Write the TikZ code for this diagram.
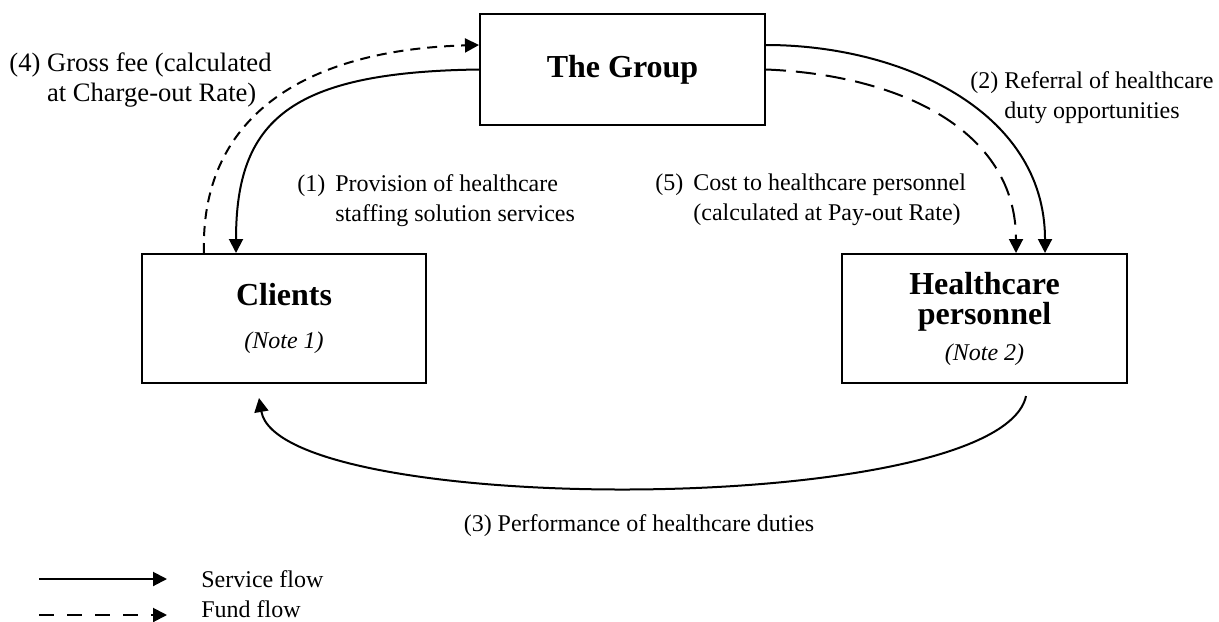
\documentclass[tikz,border=0pt]{standalone}
\usepackage{fontspec}
\setmainfont{Liberation Serif}
\usetikzlibrary{arrows.meta}

\begin{document}
\begin{tikzpicture}[x=0.5pt,y=-0.5pt,
  box/.style={draw,line width=1pt,inner sep=0pt,align=center,font=\fontsize{12}{15}\selectfont},
  service/.style={line width=1pt,-{Triangle[length=7pt,width=7pt]}},
  fund/.style={service,dash pattern=on 5pt off 3.5pt},
  lbl/.style={inner sep=0pt,font=\fontsize{12}{15}\selectfont}]
  \useasboundingbox (0,0) rectangle (1219,621);

  % the three parties
  \node[box,minimum width=142.5pt,minimum height=55.5pt] (group) at (622.5,69.5)
    {\fontsize{16}{19}\selectfont\bfseries The Group};
  \node[box,minimum width=142pt,minimum height=64.5pt] (clients) at (284,318.5)
    {{\fontsize{16}{19}\selectfont\bfseries Clients}\\[6.5pt]{\itshape (Note 1)}};
  \node[box,minimum width=142.5pt,minimum height=64.5pt] (hp) at (984.5,318.5)
    {{\fontsize{16}{19}\selectfont\bfseries Healthcare}\\{\fontsize{16}{19}\selectfont\bfseries personnel}\\[3pt]{\itshape (Note 2)}};

  % (1) services to clients
  \draw[service] (group.west) .. controls (290,72) and (236,120) .. ([xshift=-24pt]clients.north);
  % (4) gross fee back to the group
  \draw[fund] ([xshift=-40pt]clients.north) .. controls (200,120) and (300,50) .. ([yshift=12.25pt]group.west);
  % (2) referral to personnel
  \draw[service] ([yshift=12.25pt]group.east) .. controls (900,45) and (1045,110) .. ([xshift=30.25pt]hp.north);
  % (5) cost paid to personnel
  \draw[fund,dash pattern=on 10pt off 5pt] (group.east) .. controls (900,75) and (1016,130) .. ([xshift=15.75pt]hp.north);
  % (3) duties performed for clients
  \draw[service] ([xshift=20.75pt,yshift=-6pt]hp.south) .. controls (1000,518) and (280,518) .. ([xshift=-12.5pt,yshift=-7pt]clients.south);

  % labels
  \node[lbl,anchor=north west,align=left,font=\fontsize{13.3}{15}\selectfont] (feelbl) at (9,52.5)
    {(4) Gross fee (calculated\\\phantom{(4) }at Charge-out Rate)};
  \node[lbl,anchor=north west,align=left] (provlbl) at (297,174.6)
    {\makebox[19pt][l]{(1)}Provision of healthcare\\\hspace*{19pt}staffing solution services};
  \node[lbl,anchor=north west,align=left] (costlbl) at (655,173.6)
    {\makebox[19pt][l]{(5)}Cost to healthcare personnel\\\hspace*{19pt}(calculated at Pay-out Rate)};
  \node[lbl,anchor=north,align=center] (reflbl) at (1092,71.6)
    {(2) Referral of healthcare\\duty opportunities};
  \node[lbl,anchor=north] (dutylbl) at (639,514.6) {(3) Performance of healthcare duties};

  % legend
  \coordinate (sv0) at (39,579);
  \coordinate (sv1) at (167,579);
  \coordinate (fd0) at (39,615);
  \coordinate (fd1) at (167,615);
  \draw[service] (sv0) -- (sv1);
  \draw[fund,dash pattern=on 7.5pt off 6.5pt] (fd0) -- (fd1);
  \node[lbl,anchor=base west] (svlbl) at (201,587) {Service flow};
  \node[lbl,anchor=base west] (fdlbl) at (201,617.5) {Fund flow};
\end{tikzpicture}
\end{document}
